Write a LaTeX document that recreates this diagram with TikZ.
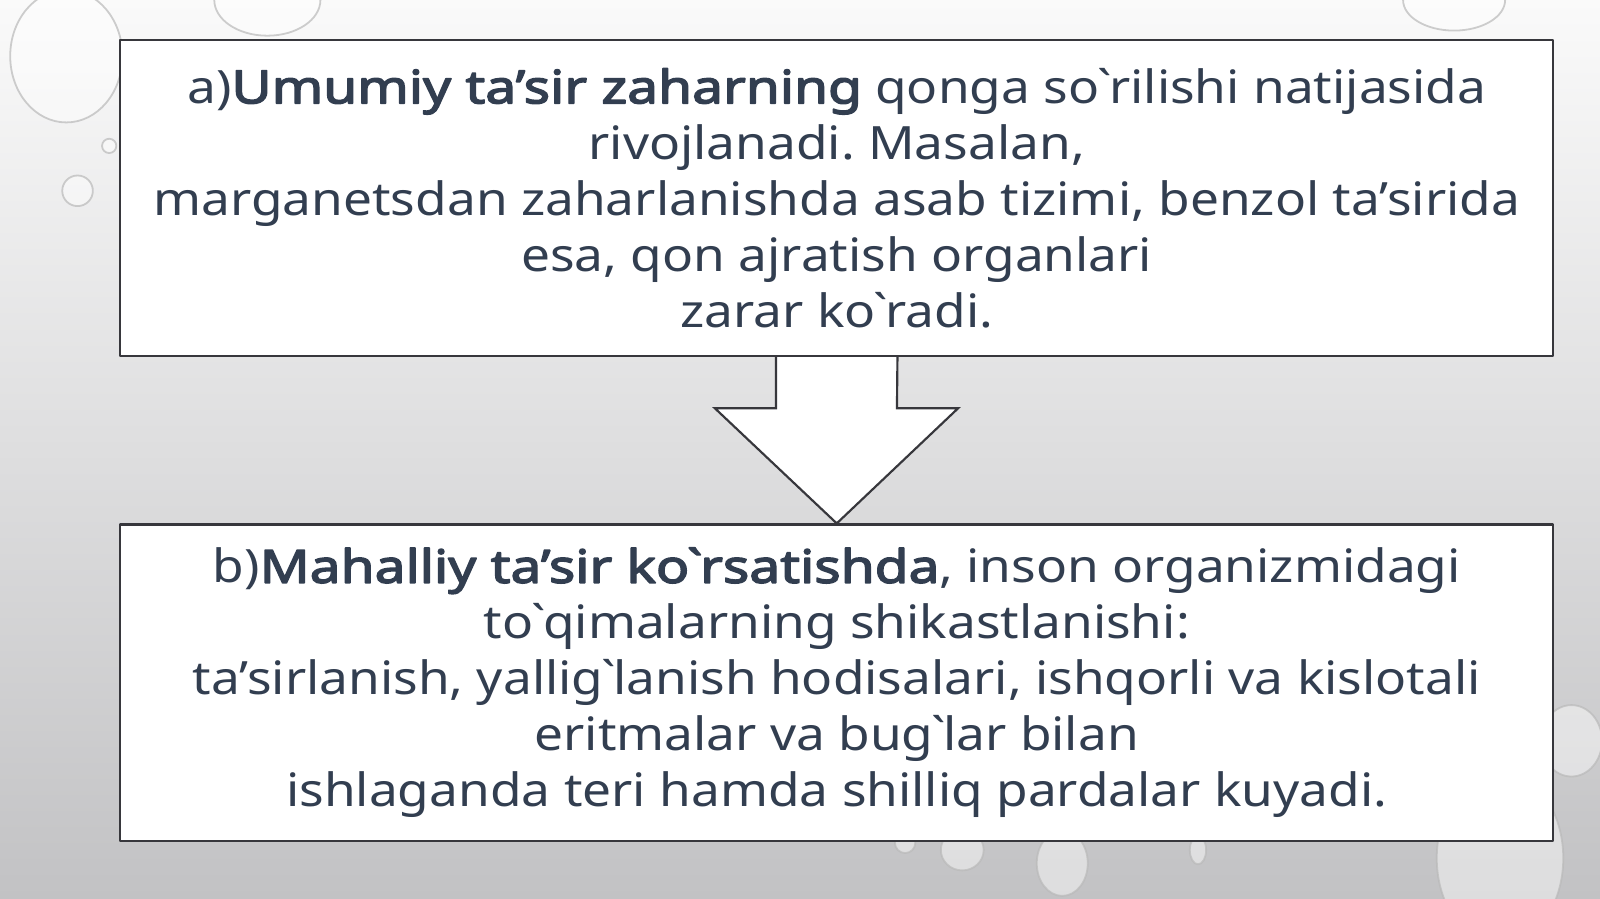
\documentclass[tikz,border=0pt]{standalone}
\usepackage{fontspec}
\setmainfont{Noto Sans}[Ligatures=TeXOff, FakeStretch=1.12,
	BoldFont={Noto Sans}, BoldFeatures={FakeBold=3.2, FakeStretch=1.2}]
\usetikzlibrary{calc}
\frenchspacing
\definecolor{txtcol}{RGB}{50,62,80}
\definecolor{edgecol}{RGB}{55,55,60}
\definecolor{bgtop}{RGB}{250,250,250}
\definecolor{bgmid}{RGB}{234,234,234}
\definecolor{bgbot}{RGB}{194,194,196}
\newcommand{\gr}{\kern-0.05em\symbol{96}\kern-0.05em}
\begin{document}
\begin{tikzpicture}[line join=round, line cap=round,
	textbox/.style={draw=edgecol, line width=0.6pt, fill=white, inner sep=0pt,
		minimum width=14.04cm, minimum height=3.1cm, align=center, text=txtcol,
		font=\fontsize{12.8}{15.6}\selectfont},
	drop/.style={fill=white, fill opacity=0.45, draw=gray!55, draw opacity=0.7, line width=0.5pt}]
	\def \W{15.68}
	\def \H{8.81}
	% background
	\useasboundingbox (0,0) rectangle (\W,\H);
	\shade[top color=bgtop, middle color=bgmid, bottom color=bgbot] (0,0) rectangle (\W,\H);
	% drops
	\filldraw[drop] (0.65,8.26) ellipse (0.55 and 0.65);
	\filldraw[drop] (2.62,8.81) ellipse (0.52 and 0.35);
	\filldraw[drop] (1.07,7.38) circle (0.07);
	\filldraw[drop] (0.76,6.94) circle (0.15);
	\filldraw[drop] (14.25,8.81) ellipse (0.5 and 0.3);
	\filldraw[drop] (8.87,0.55) circle (0.1);
	\filldraw[drop] (9.43,0.48) ellipse (0.21 and 0.2);
	\filldraw[drop] (10.41,0.35) ellipse (0.25 and 0.32);
	\filldraw[drop] (11.74,0.48) ellipse (0.08 and 0.14);
	\filldraw[drop] (14.7,0.4) ellipse (0.62 and 0.85);
	\filldraw[drop] (15.4,1.55) ellipse (0.3 and 0.35);
	% boxes
	\node[textbox] (umumiy) at (8.2,6.87) {a)\textbf{Umumiy ta’sir zaharning} qonga so\gr rilishi natijasida\\
		rivojlanadi. Masalan,\\
		marganetsdan zaharlanishda asab tizimi, benzol ta’sirida\\
		esa, qon ajratish organlari\\
		zarar ko\gr radi.};
	\node[textbox] (mahalliy) at (8.2,2.12) {b)\textbf{Mahalliy ta’sir ko\gr rsatishda}, inson organizmidagi\\
		to\gr qimalarning shikastlanishi:\\
		ta’sirlanish, yallig\gr lanish hodisalari, ishqorli va kislotali\\
		eritmalar va bug\gr lar bilan\\
		ishlaganda teri hamda shilliq pardalar kuyadi.};
	% arrow
	\filldraw[draw=edgecol, fill=white, line width=0.6pt, line cap=butt, line join=miter]
		($(umumiy.south)+(-0.595,0)$) -- ++(0,-0.5) -- ++(-0.6,0) -- (mahalliy.north)
		-- ($(umumiy.south)+(1.19,-0.5)$) -- ++(-0.6,0) -- ($(umumiy.south)+(0.595,0)$);
\end{tikzpicture}
\end{document}
